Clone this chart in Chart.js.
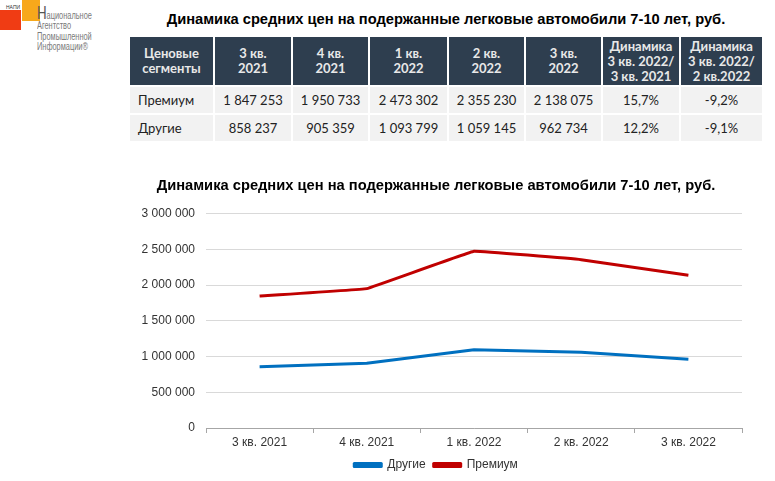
<!DOCTYPE html>
<html lang="ru">
<head>
<meta charset="utf-8">
<script src="https://cdn.jsdelivr.net/npm/chart.js@4"></script>
<style>
  body { margin: 0; width: 775px; height: 481px; background: #fff; position: relative; overflow: hidden; font-family: "Liberation Sans", Arial, sans-serif; }
  .logo-red { position: absolute; left: 0; top: 10px; width: 21px; height: 20px; background: #f03c14; }
  .logo-orange { position: absolute; left: 22px; top: 0; width: 18px; height: 21px; background: #f7a81b; }
  .logo-napi { position: absolute; left: 6px; top: 4px; font-size: 5px; color: #333; }
  .logo-text { position: absolute; left: 37px; top: 11px; font-size: 10px; line-height: 10.3px; color: #7a7a7a; transform: scaleX(0.74); transform-origin: 0 0; white-space: nowrap; }
  .logo-text b { font-size: 18px; line-height: 0; font-weight: normal; color: #555; }
  h1 { position: absolute; left: 130px; width: 632px; top: 11px; margin: 0; font-size: 14.7px; text-align: center; }
  table { position: absolute; left: 130px; top: 37px; width: 632px; table-layout: fixed; border-collapse: collapse; font-family: Lato, "Open Sans", sans-serif; font-size: 13px; }
  th { background: #2e3e4f; color: #e8e8e8; font-weight: bold; height: 48px; line-height: 15px; border-left: 2px solid #fff; padding: 0; }
  td { background: #f2f2f2; color: #222; height: 26px; text-align: center; border-left: 2px solid #fff; border-top: 2px solid #fff; padding: 0; }
  th:first-child, td:first-child { border-left: none; }
  td:first-child { text-align: left; padding-left: 8px; }
  .chart-box { position: absolute; left: 130px; top: 168px; width: 630px; height: 313px; }
</style>
</head>
<body>
<div class="logo-red"></div>
<div class="logo-orange"></div>
<div class="logo-napi">НАПИ</div>
<div class="logo-text"><b>Н</b>ациональное<br>Агентство<br>Промышленной<br>Информации®</div>

<h1>Динамика средних цен на подержанные легковые автомобили 7-10 лет, руб.</h1>
<table id="tbl"></table>

<div class="chart-box"><canvas id="chart"></canvas></div>

<script>
const quarters = ['3 кв. 2021', '4 кв. 2021', '1 кв. 2022', '2 кв. 2022', '3 кв. 2022'];
const premium = [1847253, 1950733, 2473302, 2355230, 2138075];
const others = [858237, 905359, 1093799, 1059145, 962734];
const premiumChange = ['15,7%', '-9,2%'];
const othersChange = ['12,2%', '-9,1%'];
const headers = ['Ценовые<br>сегменты', '3 кв.<br>2021', '4 кв.<br>2021', '1 кв.<br>2022', '2 кв.<br>2022', '3 кв.<br>2022',
  'Динамика<br>3 кв. 2022/<br>3 кв. 2021', 'Динамика<br>3 кв. 2022/<br>2 кв.2022'];
const colWidths = [84, 78, 77, 79, 77, 77, 78, 82];

const fmt = v => String(v).replace(/\B(?=(\d{3})+(?!\d))/g, '\u00a0');

// table
const tbl = document.getElementById('tbl');
let html = '<colgroup>' + colWidths.map(w => `<col style="width:${w}px">`).join('') + '</colgroup>';
html += '<tr>' + headers.map(h => `<th>${h}</th>`).join('') + '</tr>';
html += '<tr><td>Премиум</td>' + premium.map(v => `<td>${fmt(v)}</td>`).join('') + premiumChange.map(v => `<td>${v}</td>`).join('') + '</tr>';
html += '<tr><td>Другие</td>' + others.map(v => `<td>${fmt(v)}</td>`).join('') + othersChange.map(v => `<td>${v}</td>`).join('') + '</tr>';
tbl.innerHTML = html;

// chart
Chart.defaults.font.family = '"Liberation Sans", Arial, sans-serif';
Chart.defaults.color = '#404040';

new Chart(document.getElementById('chart'), {
  type: 'line',
  data: {
    labels: quarters,
    datasets: [{
      label: 'Другие',
      data: others,
      borderColor: '#0070c0',
      backgroundColor: '#0070c0',
      borderWidth: 3,
      borderJoinStyle: 'round',
      pointRadius: 0,
      tension: 0.04
    }, {
      label: 'Премиум',
      data: premium,
      borderColor: '#c00000',
      backgroundColor: '#c00000',
      borderWidth: 3,
      borderJoinStyle: 'round',
      pointRadius: 0,
      tension: 0.04
    }]
  },
  options: {
    responsive: true,
    maintainAspectRatio: false,
    animation: false,
    layout: { padding: { right: 18, bottom: 0 } },
    plugins: {
      title: {
        display: true,
        text: 'Динамика средних цен на подержанные легковые автомобили 7-10 лет, руб.',
        color: '#000',
        font: { size: 14.7, weight: 'bold' },
        padding: { top: 9, bottom: 19 }
      },
      legend: {
        position: 'bottom',
        labels: {
          boxWidth: 27,
          boxHeight: 3,
          padding: 8,
          color: '#333',
          font: { size: 12 }
        }
      },
      tooltip: { enabled: false }
    },
    scales: {
      x: {
        offset: true,
        afterFit: s => { s.height = 23; },
        grid: { offset: true, drawOnChartArea: false, tickLength: 5, color: '#a6a6a6' },
        border: { color: '#a6a6a6' },
        ticks: { font: { size: 12 }, color: '#333', padding: 2 }
      },
      y: {
        min: 0,
        max: 3000000,
        afterFit: s => { s.width = 76; },
        grid: { color: '#d9d9d9', drawTicks: false },
        border: { display: false },
        ticks: { stepSize: 500000, padding: 11, font: { size: 12 }, color: '#333', callback: v => fmt(v) }
      }
    }
  }
});
</script>
</body>
</html>
